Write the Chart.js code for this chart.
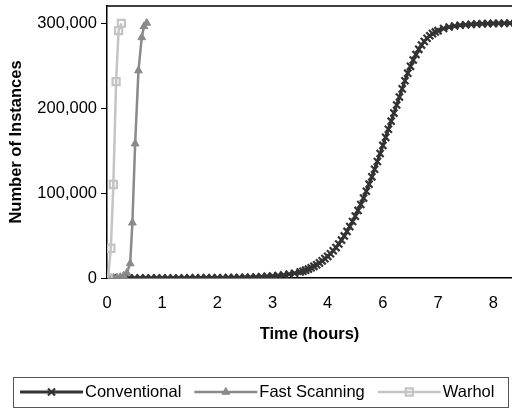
<!DOCTYPE html>
<html>
<head>
<meta charset="utf-8">
<script src="https://cdn.jsdelivr.net/npm/chart.js@4.4.1/dist/chart.umd.min.js"></script>
<style>
html, body { margin: 0; padding: 0; background: #fff; }
#wrap { width: 512px; height: 408px; }
canvas { display: block; }
</style>
</head>
<body>
<div id="wrap"><canvas id="wormChart" width="512" height="408"></canvas></div>
<script>
// x values are tick slots; the original axis labels slot 5 as "6" (there is no "5")
const xTickLabels = ['0', '1', '2', '3', '4', '6', '7', '8'];
const yTickValues = [0, 100000, 200000, 300000];
const seriesNames = ['Conventional', 'Fast Scanning', 'Warhol'];

const conventionalTime = [
    0.0, 0.1, 0.2, 0.3, 0.4, 0.5, 0.6, 0.7, 0.8, 0.9,
    1.0, 1.1, 1.2, 1.3, 1.4, 1.5, 1.6, 1.7, 1.8, 1.9,
    2.0, 2.1, 2.2, 2.3, 2.4, 2.5, 2.6, 2.7, 2.8, 2.9,
    3.0, 3.1, 3.2, 3.3, 3.4, 3.5, 3.55, 3.6, 3.65, 3.7,
    3.75, 3.8, 3.85, 3.9, 3.95, 4.0, 4.05, 4.1, 4.15, 4.2,
    4.25, 4.3, 4.35, 4.4, 4.45, 4.5, 4.55, 4.6, 4.65, 4.7,
    4.75, 4.8, 4.85, 4.9, 4.95, 5.0, 5.05, 5.1, 5.15, 5.2,
    5.25, 5.3, 5.35, 5.4, 5.45, 5.5, 5.55, 5.6, 5.65, 5.7,
    5.75, 5.8, 5.85, 5.9, 5.95, 6.0, 6.1, 6.2, 6.3, 6.4,
    6.5, 6.6, 6.7, 6.8, 6.9, 7.0, 7.1, 7.2, 7.3, 7.4
];
const conventionalCount = [
    2, 3, 4, 5, 6, 8, 10, 12, 15, 19,
    24, 30, 38, 48, 60, 76, 95, 120, 150, 190,
    240, 300, 380, 480, 600, 760, 950, 1200, 1500, 1850,
    2300, 2900, 3600, 4500, 5600, 7000, 8000, 9200, 10500, 12000,
    13700, 15600, 17800, 20200, 22800, 25500, 28600, 32000, 35800, 40000,
    44600, 49500, 54800, 60500, 66500, 72800, 79500, 86500, 94000, 102000,
    110400, 119000, 128000, 137000, 146500, 156000, 165500, 175000, 184500, 194000,
    203500, 213000, 222500, 232000, 241000, 249000, 256500, 263000, 269000, 274000,
    278300, 282000, 285000, 287500, 289500, 291000, 293500, 295300, 296500, 297300,
    297900, 298400, 298800, 299100, 299300, 299500, 299600, 299700, 299800, 299900
];
const fastTime = [0, 0.06, 0.12, 0.18, 0.24, 0.30, 0.36, 0.42, 0.46, 0.51, 0.57, 0.63, 0.67, 0.72];
const fastCount = [0, 50, 150, 400, 1000, 2500, 6000, 17000, 65000, 158000, 244000, 283000, 296000, 300000];
const warholTime = [0.02, 0.07, 0.115, 0.165, 0.21, 0.26];
const warholCount = [0, 35000, 110000, 231000, 291000, 299500];

const FONT = 'Arial, "Liberation Sans", sans-serif';

function toPoints(xs, ys) {
    return xs.map((x, i) => ({ x: x, y: ys[i] }));
}

function noScalePadding(scale) {
    scale.paddingLeft = 0;
    scale.paddingRight = 0;
    scale.paddingTop = 0;
    scale.paddingBottom = 0;
}

// top edge of the plot frame
const frameTop = {
    id: 'frameTop',
    afterDatasetsDraw(chart) {
        const { ctx, chartArea } = chart;
        ctx.save();
        ctx.strokeStyle = '#000';
        ctx.lineWidth = 1.5;
        ctx.beginPath();
        ctx.moveTo(chartArea.left, chartArea.top);
        ctx.lineTo(chartArea.right, chartArea.top);
        ctx.stroke();
        ctx.restore();
    }
};

// boxed legend with line + marker samples
const boxedLegend = {
    id: 'boxedLegend',
    afterDraw(chart) {
        const ctx = chart.ctx;
        const boxLeft = 13, boxRight = 508, boxTop = 377, boxBottom = 407;
        const lineLen = 63, textGap = 2, itemGap = 13;
        const cy = (boxTop + boxBottom) / 2;
        ctx.save();
        ctx.strokeStyle = '#555';
        ctx.lineWidth = 1;
        ctx.strokeRect(boxLeft + 0.5, boxTop + 0.5, boxRight - boxLeft, boxBottom - boxTop);
        ctx.font = '16.5px ' + FONT;
        ctx.textBaseline = 'middle';
        let x = boxLeft + 7;
        chart.data.datasets.forEach(ds => {
            ctx.strokeStyle = ds.borderColor;
            ctx.lineWidth = ds.borderWidth;
            ctx.beginPath();
            ctx.moveTo(x, cy);
            ctx.lineTo(x + lineLen, cy);
            ctx.stroke();
            ctx.fillStyle = ds.pointBackgroundColor;
            ctx.strokeStyle = ds.pointBorderColor;
            ctx.lineWidth = ds.pointBorderWidth;
            Chart.helpers.drawPoint(ctx, {
                pointStyle: ds.pointStyle,
                radius: ds.pointRadius,
                borderWidth: ds.pointBorderWidth,
                rotation: 0
            }, x + lineLen / 2, cy);
            ctx.fillStyle = '#000';
            ctx.fillText(ds.label, x + lineLen + textGap, cy);
            x += lineLen + textGap + ctx.measureText(ds.label).width + itemGap;
        });
        ctx.restore();
    }
};

const ctx = document.getElementById('wormChart').getContext('2d');
const wormChart = new Chart(ctx, {
    type: 'line',
    data: {
        datasets: [
            {
                label: seriesNames[0],
                data: toPoints(conventionalTime, conventionalCount),
                borderColor: '#333333',
                borderWidth: 3,
                pointStyle: 'crossRot',
                pointRadius: 5,
                pointBorderWidth: 2.2,
                pointBorderColor: '#333333',
                pointBackgroundColor: '#333333',
                order: 3
            },
            {
                label: seriesNames[1],
                data: toPoints(fastTime, fastCount),
                borderColor: '#8a8a8a',
                borderWidth: 2.5,
                pointStyle: 'triangle',
                pointRadius: 4.5,
                pointBorderWidth: 1,
                pointBorderColor: '#8a8a8a',
                pointBackgroundColor: '#8a8a8a',
                order: 2
            },
            {
                label: seriesNames[2],
                data: toPoints(warholTime, warholCount),
                borderColor: '#c4c4c4',
                borderWidth: 2.5,
                pointStyle: 'rect',
                pointRadius: 5,
                pointBorderWidth: 2.2,
                pointBorderColor: '#c4c4c4',
                pointBackgroundColor: 'rgba(255,255,255,0)',
                order: 1
            }
        ]
    },
    options: {
        responsive: false,
        animation: false,
        devicePixelRatio: 1,
        layout: { autoPadding: false, padding: { top: 6, right: 0, bottom: 60, left: 0 } },
        plugins: {
            legend: { display: false },
            tooltip: { enabled: false }
        },
        elements: { line: { tension: 0 } },
        scales: {
            x: {
                type: 'linear',
                min: 0,
                max: 7.34,
                afterBuildTicks(scale) {
                    scale.ticks = xTickLabels.map((label, i) => ({ value: i }));
                },
                ticks: {
                    padding: 16,
                    color: '#000',
                    font: { family: FONT, size: 16.5 },
                    maxRotation: 0,
                    autoSkip: false,
                    callback: (v, i) => xTickLabels[i]
                },
                grid: { display: false, drawTicks: false },
                border: { display: true, color: '#000', width: 1.5 },
                title: {
                    display: true,
                    text: 'Time (hours)',
                    color: '#000',
                    font: { family: FONT, size: 16.5, weight: 'bold' },
                    padding: { top: 0, bottom: 4 }
                },
                afterFit(scale) {
                    scale.height = 70;
                    noScalePadding(scale);
                }
            },
            y: {
                type: 'linear',
                min: 0,
                max: 320000,
                afterBuildTicks(scale) {
                    scale.ticks = yTickValues.map(v => ({ value: v }));
                },
                ticks: {
                    padding: 4,
                    color: '#000',
                    font: { family: FONT, size: 16.5 },
                    callback: (v) => v.toLocaleString('en-US')
                },
                grid: {
                    display: true,
                    drawOnChartArea: false,
                    drawTicks: true,
                    tickLength: 6,
                    color: '#000',
                    lineWidth: 1
                },
                border: { display: true, color: '#000', width: 1.5 },
                title: {
                    display: true,
                    text: 'Number of Instances',
                    color: '#000',
                    font: { family: FONT, size: 16.5, weight: 'bold' },
                    padding: { top: 7, bottom: 0 }
                },
                afterFit(scale) {
                    scale.width = 107;
                    noScalePadding(scale);
                }
            }
        }
    },
    plugins: [frameTop, boxedLegend]
});
</script>
</body>
</html>
